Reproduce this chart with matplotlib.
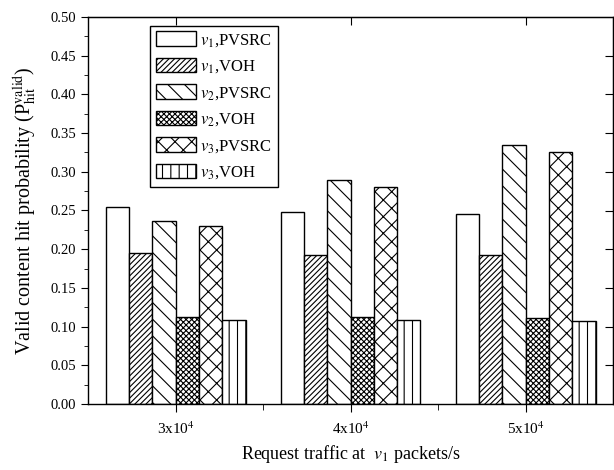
import numpy as np
import matplotlib
matplotlib.use("Agg")
import matplotlib.pyplot as plt
from matplotlib.ticker import MultipleLocator, FixedLocator

plt.rcParams['font.family'] = ['Liberation Serif', 'DejaVu Serif']
plt.rcParams['mathtext.fontset'] = 'stix'
plt.rcParams['hatch.linewidth'] = 0.8

# data
traffic = ['3x10$^4$', '4x10$^4$', '5x10$^4$']
series = ['$v_1$,PVSRC', '$v_1$,VOH', '$v_2$,PVSRC', '$v_2$,VOH', '$v_3$,PVSRC', '$v_3$,VOH']
v1_pvsrc = [0.255, 0.248, 0.245]
v1_voh = [0.195, 0.192, 0.192]
v2_pvsrc = [0.237, 0.290, 0.335]
v2_voh = [0.112, 0.112, 0.111]
v3_pvsrc = [0.230, 0.280, 0.325]
v3_voh = [0.108, 0.108, 0.107]
hatches = ['', '//////', '\\\\', 'xxxxxx', 'xx', '||']

values = [v1_pvsrc, v1_voh, v2_pvsrc, v2_voh, v3_pvsrc, v3_voh]

fig = plt.figure(figsize=(6.14, 4.70), dpi=100)
ax = fig.add_axes([88 / 614, (470 - 404) / 470, (613 - 88) / 614, (404 - 17) / 470])

x = np.arange(1, len(traffic) + 1)
w = 0.8 / len(series)
for i, (vals, lab, h) in enumerate(zip(values, series, hatches)):
    ax.bar(x - 0.4 + w * (i + 0.5), vals, width=w, facecolor='white',
           edgecolor='black', linewidth=1.0, hatch=h, label=lab)

ax.set_xlim(0.5, 3.5)
ax.set_ylim(0, 0.5)
ax.set_xticks(x)
ax.set_xticklabels(traffic, fontsize=11)
ax.xaxis.set_minor_locator(FixedLocator([1.5, 2.5]))
ax.yaxis.set_major_locator(MultipleLocator(0.05))
ax.yaxis.set_minor_locator(MultipleLocator(0.025))
ax.yaxis.set_major_formatter(matplotlib.ticker.FormatStrFormatter('%.2f'))
ax.tick_params(axis='y', which='major', direction='out', length=5, labelsize=10.5)
ax.tick_params(axis='y', which='minor', direction='out', length=3)
ax.tick_params(axis='x', which='major', direction='out', length=6, pad=6)
ax.tick_params(axis='x', which='minor', direction='out', length=4)
for s in ax.spines.values():
    s.set_linewidth(1.0)

# inward ticks on the top and right sides only
sec_r = ax.secondary_yaxis('right')
sec_r.set_yticks(np.arange(0.05, 0.5, 0.05))
sec_r.tick_params(direction='in', length=6, labelright=False)
sec_t = ax.secondary_xaxis('top')
sec_t.set_xticks(x)
sec_t.tick_params(direction='in', length=6, labeltop=False)

ax.set_ylabel('Valid content hit probability (P$_{\\mathrm{hit}}^{\\mathrm{valid}}$)',
              fontsize=14.5, labelpad=8)
ax.set_xlabel('Request traffic at  $v_1$ packets/s', fontsize=13, labelpad=4)

leg = ax.legend(loc='upper left', bbox_to_anchor=(0.118, 0.978), fontsize=12,
                handlelength=2.4, handleheight=0.95, labelspacing=0.55,
                handletextpad=0.25, borderpad=0.35, borderaxespad=0,
                fancybox=False, edgecolor='black', framealpha=1)
leg.get_frame().set_linewidth(1.0)

fig.savefig('out.png', dpi=100)
